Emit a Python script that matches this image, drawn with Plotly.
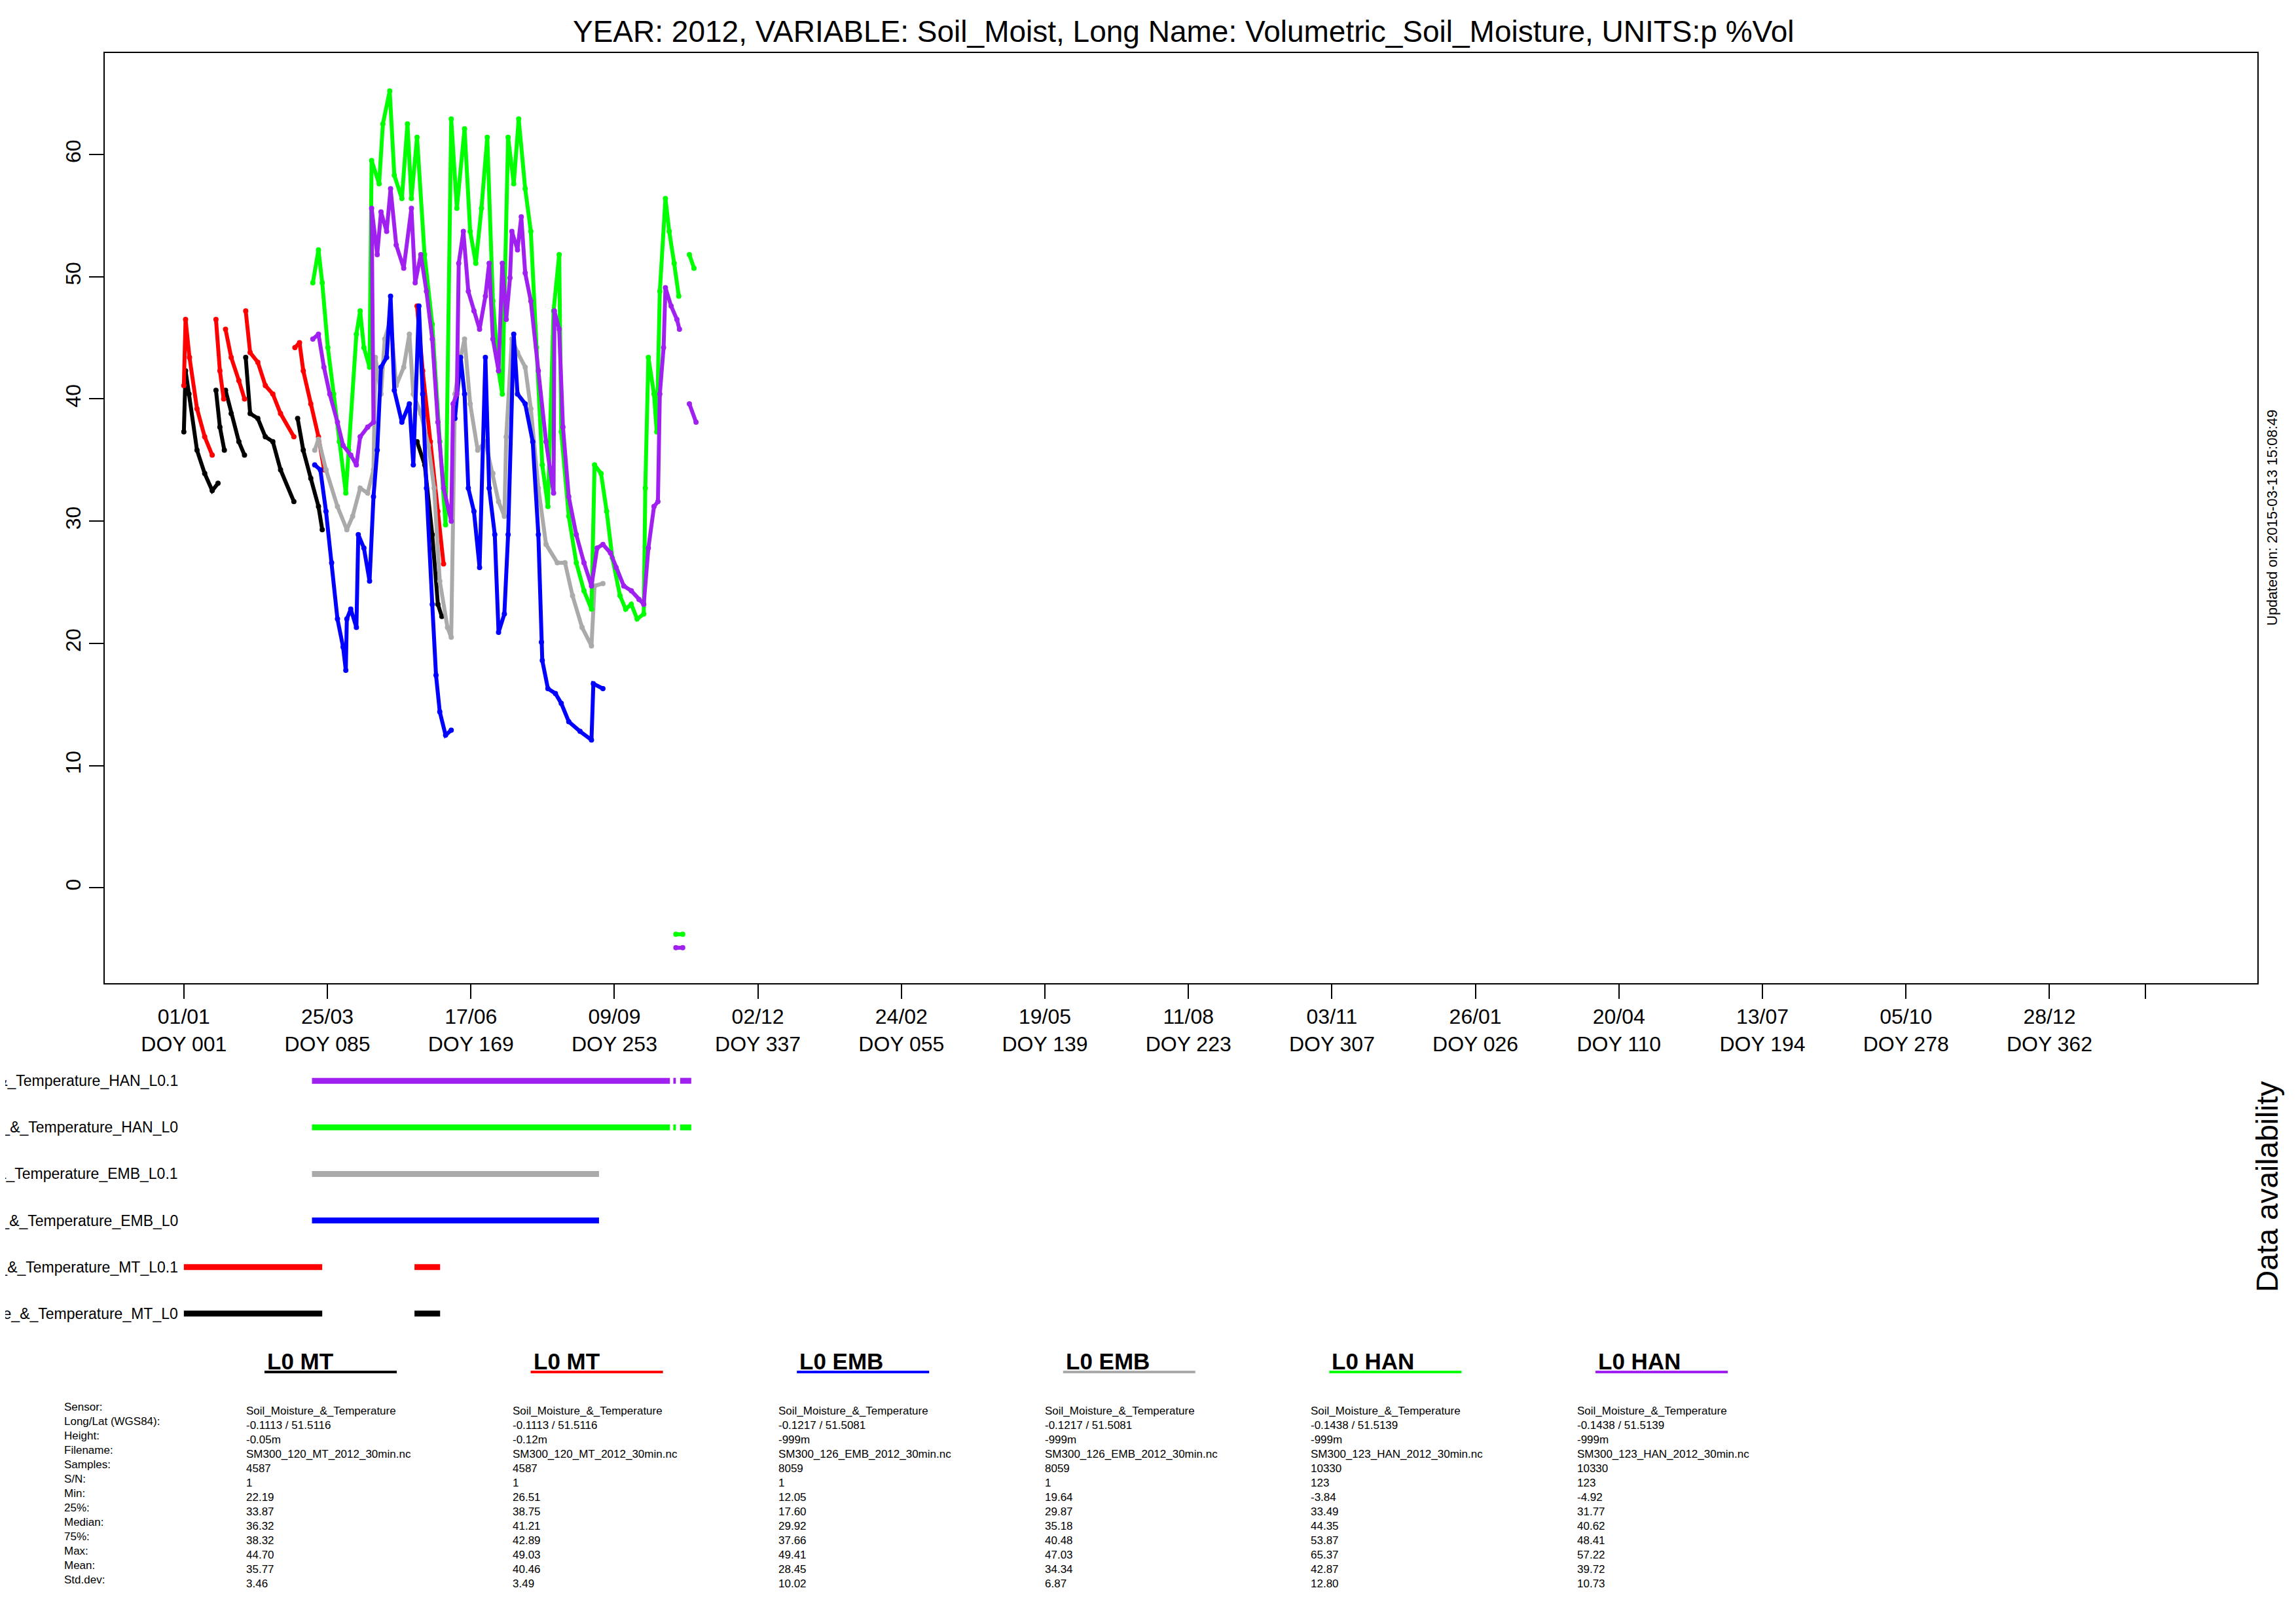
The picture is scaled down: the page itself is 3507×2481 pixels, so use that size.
import plotly.graph_objects as go

W, H = 3507, 2481
N = None

# ---------------- data (day of year 2012, volumetric soil moisture %) ----------------
mt_l0_day = [1,2,4,8.7,13.2,17.6,21,N,19.8,22.1,24.7,N,25.4,28.7,33.2,36.5,N,37.2,39.8,44.3,48.7,53.1,57.6,65.4,N,
             67.6,70.9,75.3,79.8,82,N,137.5,142,146.4,149.7,152]
mt_l0_val = [37.3,42.3,40.4,35.8,33.9,32.5,33.1,N,40.7,37.7,35.8,N,40.7,38.8,36.5,35.4,N,43.4,38.8,38.4,36.9,36.5,34.2,31.6,N,
             38.4,35.8,33.5,31.2,29.3,N,36.5,34.6,28.9,23.2,22.2]

mt_l01_day = [1,2,4.3,8.7,13.2,17.6,N,19.8,22.1,24.3,N,25.4,28.7,33.2,36.5,N,37.2,39.8,44.3,48.7,53.1,57.6,65.4,N,
              66,68.7,70.9,75.3,79.8,83.1,N,137.5,140.8,145.3,149.7,153]
mt_l01_val = [41.1,46.5,43.4,39.2,36.9,35.4,N,46.5,42.3,40.0,N,45.7,43.4,41.5,40.0,N,47.2,43.8,43.0,41.1,40.4,38.8,36.9,N,
              44.2,44.6,42.3,39.6,36.9,34.2,N,47.6,42.3,36.5,30.8,26.5]

emb_l0_day = [77.6,80.9,84.2,87.5,90.9,94.2,95.8,96.4,98.7,102,103.1,106.4,109.7,112,114.2,116.4,119.7,122,124.2,128.6,133,
              135.3,138.6,140.8,143,146.4,148.6,150.8,154.2,157.5,N,159.7,163,165.3,167.5,170.8,174.1,177.5,179.7,183,185.2,
              188.6,190.8,194.1,196.3,200.8,205.2,208.5,210.3,210.8,214.1,218.5,221.9,226.3,232.9,239.6,240.7,246.3]
emb_l0_val = [34.6,34.2,30.8,26.6,22.0,19.7,17.8,22.0,22.8,21.3,28.9,27.8,25.1,32.0,35.8,42.6,43.4,48.4,40.7,38.1,39.6,
              34.6,47.6,40.4,32.7,23.2,17.4,14.4,12.5,12.9,N,38.4,43.4,40.4,32.7,30.8,26.2,43.4,32.7,28.9,20.9,
              22.4,28.9,45.3,40.4,39.6,36.5,28.9,20.1,18.6,16.3,15.9,15.1,13.6,12.8,12.1,16.7,16.3]

emb_l01_day = [77.6,79.8,84.2,90.9,96.4,99.8,104.2,108.6,112,113.1,116.4,118.6,122,125.3,129.7,133,135.3,139.7,144.2,147.5,
               150.8,155.3,157.5,159.7,163,165.3,168.6,173,177.5,181.9,185.2,188.6,189.7,193,196.3,200.8,204.1,208.5,213,
               219.6,224.1,228.5,234.1,239.6,241.4,246.3]
emb_l01_val = [35.8,36.7,34.2,31.2,29.3,30.4,32.7,32.3,34.2,43.4,40.4,44.9,46.5,41.1,42.6,45.3,40.4,38.8,36.2,32.7,
               25.1,21.3,20.5,40.4,43.4,44.9,39.6,35.8,36.5,33.9,31.6,30.4,36.9,44.9,43.8,42.6,39.2,32.7,28.1,
               26.6,26.6,23.9,21.3,19.8,24.7,24.9]

han_l0_day = [76.5,79.8,82,85.3,88.7,92,95.8,97.5,102,104.2,106.4,109.7,110.9,115.3,117.5,121.5,124.2,128.6,131.9,134.2,137.5,
              141.9,146.4,150.8,154.2,157.5,160.8,165.3,168.6,171.9,175.2,178.6,181.9,185.2,187.4,190.8,194.1,197,200.8,
              204.1,207.4,210.8,214.1,217.4,220.7,221.9,226.3,230.7,235.2,239.6,241.4,245.2,248.5,251.8,256.3,259.6,262.9,
              266.3,270.2,271.1,272.9,276.2,277.8,279.6,282.9,285.1,288,290.7,N,289,293,N,296.9,299.6]
han_l0_val = [49.5,52.2,49.5,44.2,40.4,36.5,32.3,35.8,45.3,47.2,44.2,42.6,59.5,57.6,62.5,65.2,58.3,56.4,62.5,56.4,61.4,
              51.8,46.1,36.5,29.7,62.9,55.6,62.1,53.7,51.1,55.6,61.4,48.0,42.3,40.4,61.4,57.6,62.9,57.2,
              53.7,44.2,34.6,31.2,47.2,51.8,37.3,30.4,26.6,24.3,22.8,34.6,33.9,30.8,27.0,23.9,22.8,23.2,
              22.0,22.4,32.7,43.4,40.4,37.3,48.8,56.4,53.7,51.1,48.4,N,-3.8,-3.8,N,51.8,50.7]

han_l01_day = [76.5,79.8,83,86.4,90.9,94.2,98.7,102,104.2,108.6,112,110.9,114.2,116.4,119.7,122,125.3,129.7,134.2,136.4,139.7,
               143,146.4,149.7,153,157.5,158.6,160.8,161.9,164.6,167.5,170.8,174.1,177.5,179.7,181.9,185.2,187.4,189.7,191.9,
               193,196.3,198.5,200.8,204.1,208.5,213,217.4,217.9,220.7,222.9,226.3,230.7,235.2,239.6,242.9,246.3,250.7,254,
               258.5,262.9,267.4,270.2,272.9,276.2,278.5,279.6,281.8,282.9,286.2,289.6,291.1,N,289,293,N,296.9,300.8]
han_l01_val = [44.9,45.3,42.6,40.4,38.1,36.2,35.4,34.6,36.9,37.7,38.1,55.6,51.8,55.3,53.7,57.2,52.6,50.7,55.6,49.5,51.8,
               48.8,44.9,38.1,32.7,30.0,39.6,40.4,51.1,53.7,48.8,47.2,45.7,48.4,51.1,44.9,42.3,51.1,46.5,49.9,
               53.7,52.2,54.9,50.3,48.0,42.3,36.5,32.3,47.2,45.7,37.7,32.0,28.9,26.6,24.7,27.8,28.1,27.4,26.2,
               24.7,24.3,23.6,23.2,27.8,31.2,31.6,40.4,44.2,49.1,47.6,46.5,45.7,N,-4.9,-4.9,N,39.6,38.1]

series_names = ["Soil_Moisture_&_Temperature_MT_L0", "Soil_Moisture_&_Temperature_MT_L0.1",
                "Soil_Moisture_&_Temperature_EMB_L0", "Soil_Moisture_&_Temperature_EMB_L0.1",
                "Soil_Moisture_&_Temperature_HAN_L0", "Soil_Moisture_&_Temperature_HAN_L0.1"]
series_colors = ["#000000", "#ff0000", "#0000ff", "#aaaaaa", "#00ff00", "#a020f0"]
series_days = [mt_l0_day, mt_l01_day, emb_l0_day, emb_l01_day, han_l0_day, han_l01_day]
series_vals = [mt_l0_val, mt_l01_val, emb_l0_val, emb_l01_val, han_l0_val, han_l01_val]

# availability segments (start day, end day)
avail = [
    [(1, 82), (136, 151)],
    [(1, 82), (136, 151)],
    [(76, 244)],
    [(76, 244)],
    [(76, 285.5), (287.5, 289), (291.5, 298)],
    [(76, 285.5), (287.5, 289), (291.5, 298)],
]

tick_days = [1, 85, 169, 253, 337, 421, 505, 589, 673, 757, 841, 925, 1009, 1093, 1149]
tick_labels = ["01/01<br>DOY 001", "25/03<br>DOY 085", "17/06<br>DOY 169", "09/09<br>DOY 253", "02/12<br>DOY 337",
               "24/02<br>DOY 055", "19/05<br>DOY 139", "11/08<br>DOY 223", "03/11<br>DOY 307", "26/01<br>DOY 026",
               "20/04<br>DOY 110", "13/07<br>DOY 194", "05/10<br>DOY 278", "28/12<br>DOY 362", ""]

title = "YEAR: 2012, VARIABLE: Soil_Moist, Long Name: Volumetric_Soil_Moisture, UNITS:p %Vol"

headers = ["L0 MT", "L0 MT", "L0 EMB", "L0 EMB", "L0 HAN", "L0 HAN"]
row_labels = ["Sensor:", "Long/Lat (WGS84):", "Height:", "Filename:", "Samples:", "S/N:", "Min:", "25%:",
              "Median:", "75%:", "Max:", "Mean:", "Std.dev:"]
stats = [
    ["Soil_Moisture_&_Temperature", "-0.1113 / 51.5116", "-0.05m", "SM300_120_MT_2012_30min.nc", "4587", "1",
     "22.19", "33.87", "36.32", "38.32", "44.70", "35.77", "3.46"],
    ["Soil_Moisture_&_Temperature", "-0.1113 / 51.5116", "-0.12m", "SM300_120_MT_2012_30min.nc", "4587", "1",
     "26.51", "38.75", "41.21", "42.89", "49.03", "40.46", "3.49"],
    ["Soil_Moisture_&_Temperature", "-0.1217 / 51.5081", "-999m", "SM300_126_EMB_2012_30min.nc", "8059", "1",
     "12.05", "17.60", "29.92", "37.66", "49.41", "28.45", "10.02"],
    ["Soil_Moisture_&_Temperature", "-0.1217 / 51.5081", "-999m", "SM300_126_EMB_2012_30min.nc", "8059", "1",
     "19.64", "29.87", "35.18", "40.48", "47.03", "34.34", "6.87"],
    ["Soil_Moisture_&_Temperature", "-0.1438 / 51.5139", "-999m", "SM300_123_HAN_2012_30min.nc", "10330", "123",
     "-3.84", "33.49", "44.35", "53.87", "65.37", "42.87", "12.80"],
    ["Soil_Moisture_&_Temperature", "-0.1438 / 51.5139", "-999m", "SM300_123_HAN_2012_30min.nc", "10330", "123",
     "-4.92", "31.77", "40.62", "48.41", "57.22", "39.72", "10.73"],
]

# ---------------- figure ----------------
FONT = "Liberation Sans"
fig = go.Figure()
draw_order = [0, 1, 3, 2, 4, 5]
for i in draw_order:
    fig.add_trace(go.Scatter(x=series_days[i], y=series_vals[i], mode="lines+markers",
                             line=dict(color=series_colors[i], width=6),
                             marker=dict(color=series_colors[i], size=8),
                             showlegend=False, xaxis="x", yaxis="y", connectgaps=False))

for i, segs in enumerate(avail):
    xs, ys = [], []
    for a, b in segs:
        xs += [a, b, None]
        ys += [i + 1, i + 1, None]
    fig.add_trace(go.Scatter(x=xs, y=ys, mode="lines", line=dict(color=series_colors[i], width=9),
                             showlegend=False, xaxis="x2", yaxis="y2"))

xr = [-45.3, 1214.7]
px = lambda v: v / W
py = lambda v: 1 - v / H

fig.update_layout(
    width=W, height=H, margin=dict(l=0, r=0, t=0, b=0),
    paper_bgcolor="white", plot_bgcolor="white",
    font=dict(family=FONT, color="black", size=32),
    xaxis=dict(domain=[px(152), px(3440)], range=xr, tickvals=tick_days, ticktext=tick_labels,
               ticks="outside", ticklen=22, tickwidth=2, tickcolor="black", showgrid=False, zeroline=False,
               showline=True, linecolor="black", linewidth=2, mirror=True, anchor="y",
               tickfont=dict(size=32)),
    yaxis=dict(domain=[py(1494), py(73)], range=[-7.8, 68.3], tickvals=[0, 10, 20, 30, 40, 50, 60],
               ticks="outside", ticklen=22, tickwidth=2, tickcolor="black", tickangle=-90,
               showgrid=False, zeroline=False, showline=True, linecolor="black", linewidth=2, mirror=True,
               tickfont=dict(size=32), anchor="x"),
    xaxis2=dict(domain=[px(152), px(3440)], range=xr, visible=False, anchor="y2"),
    yaxis2=dict(domain=[py(2070), py(1572)], range=[0, 7], visible=False, anchor="x2"),
)

ann = []
ann.append(dict(text=title, x=px(1800), y=py(40), xref="paper", yref="paper", showarrow=False,
                font=dict(size=46), xanchor="center", yanchor="middle"))
ann.append(dict(text="Updated on: 2015-03-13 15:08:49", x=px(3462), y=py(783), xref="paper", yref="paper",
                showarrow=False, textangle=-90, font=dict(size=22), xanchor="center", yanchor="middle"))
ann.append(dict(text="Data availability", x=px(3455), y=py(1805), xref="paper", yref="paper",
                showarrow=False, textangle=-90, font=dict(size=46), xanchor="center", yanchor="middle"))
for i, name in enumerate(series_names):
    ann.append(dict(text=name, x=px(266), y=i + 1, xref="paper", yref="y2", showarrow=False,
                    xanchor="right", yanchor="middle", font=dict(size=23)))

col0, colstep = 398, 406.6
shapes = []
for k, h in enumerate(headers):
    x0 = col0 + colstep * k
    ann.append(dict(text="<b>" + h + "</b>", x=px(x0), y=py(2071), xref="paper", yref="paper",
                    showarrow=False, xanchor="left", yanchor="middle", font=dict(size=35)))
    shapes.append(dict(type="line", xref="paper", yref="paper", x0=px(x0 - 2), x1=px(x0 + 200),
                       y0=py(2088), y1=py(2088), line=dict(color=series_colors[k], width=4)))
for r, lab in enumerate(row_labels):
    yv = 2141 + 22 * r
    ann.append(dict(text=lab, x=px(88), y=py(yv), xref="paper", yref="paper", showarrow=False,
                    xanchor="left", yanchor="middle", font=dict(size=17)))
    for k in range(6):
        ann.append(dict(text=stats[k][r], x=px(366 + colstep * k), y=py(yv + 6), xref="paper", yref="paper",
                        showarrow=False, xanchor="left", yanchor="middle", font=dict(size=17)))
fig.update_layout(annotations=ann, shapes=shapes)

fig.write_html("out.html")
